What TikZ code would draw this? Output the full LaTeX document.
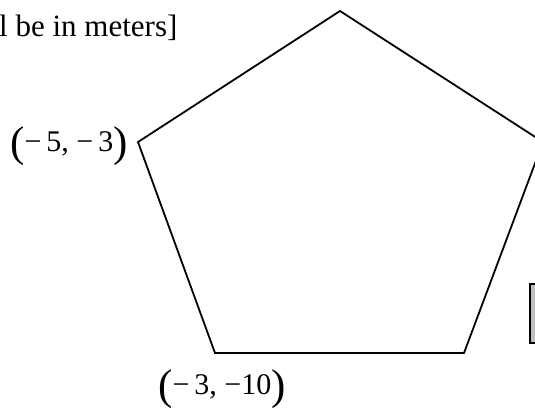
\documentclass[tikz,border=0pt]{standalone}
\usepackage{fontspec}
\setmainfont{Liberation Serif}
\tikzset{
  edge/.style={line width=1.8pt, line join=miter},
  lbl/.style={inner sep=0pt, font=\fontsize{30}{34}\selectfont},
  plainlbl/.style={inner sep=0pt, font=\fontsize{31}{36}\selectfont},
}
\newcommand{\bigpar}[1]{{\fontsize{43}{46}\selectfont\raisebox{-0.12em}{#1}}}
\begin{document}
\begin{tikzpicture}[x=1pt,y=-1pt]
\useasboundingbox (0,0) rectangle (535,410);
\coordinate (T) at (340,11);
\coordinate (R) at (543,142);
\coordinate (BR) at (464,353);
\coordinate (BL) at (215,353);
\coordinate (L) at (138,142);
\draw[edge] (T) -- (R) -- (BR) -- (BL) -- (L) -- cycle;
\node[plainlbl, anchor=base west] (note) at (-1,36) {l be in meters]};
\node[lbl] (p1) at (69,146) {\bigpar{(}−\,5,\ −\,3\bigpar{)}};
\node[lbl] (p2) at (222,389) {\bigpar{(}−\,3,\ −10\bigpar{)}};
\node[draw, line width=1.8pt, fill=black!25, minimum width=20pt, minimum height=59pt, inner sep=0pt] (box) at (540,313.5) {};
\end{tikzpicture}
\end{document}
